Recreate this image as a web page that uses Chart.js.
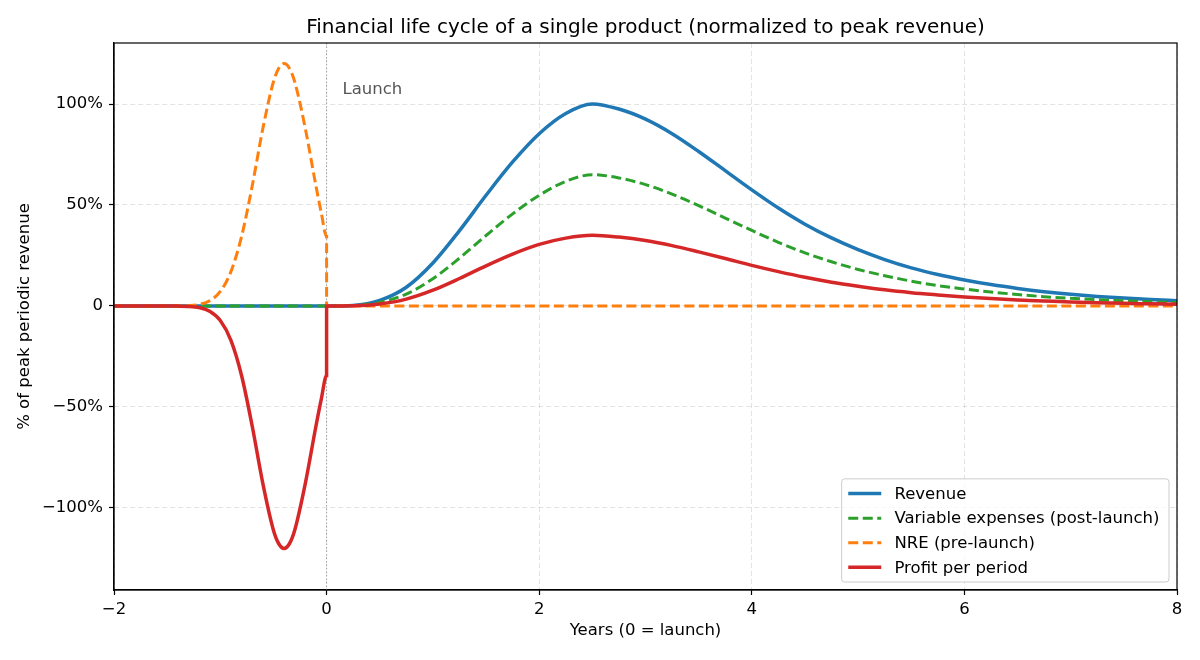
<!DOCTYPE html>
<html>
<head>
<meta charset="utf-8">
<title>Financial life cycle</title>
<script src="https://cdn.jsdelivr.net/npm/chart.js@4.4.1/dist/chart.umd.min.js"></script>
<style>
  body { margin: 0; background: #fff; }
  #wrap { width: 1200px; height: 660px; }
</style>
</head>
<body>
<div id="wrap"><canvas id="lifecycle" width="1200" height="660"></canvas></div>
<script>
// years relative to launch (two points at 0 for the launch step)
const years = [
  -2, -1.9, -1.8, -1.7, -1.6, -1.5, -1.4, -1.3, -1.2, -1.1, -1.0, -0.9, -0.8, -0.7, -0.6,
  -0.5, -0.45, -0.4, -0.35, -0.3, -0.2, -0.1, -0.05, 0,
  0, 0.25, 0.5, 0.75, 1, 1.25, 1.5, 1.75, 2, 2.25, 2.5, 2.75, 3, 3.25, 3.5, 3.75, 4,
  4.25, 4.5, 4.75, 5, 5.25, 5.5, 5.75, 6, 6.25, 6.5, 6.75, 7, 7.25, 7.5, 7.75, 8
];

// % of peak revenue
const revenue = [
  0, 0, 0, 0, 0, 0, 0, 0, 0, 0, 0, 0, 0, 0, 0, 0, 0, 0, 0, 0, 0, 0, 0, 0,
  0, 0.3, 2.8, 9.3, 21.3, 37.3, 54.8, 71.3, 85.3, 95.3, 100, 97.5, 92.5, 85.3, 76.5, 67, 57.5,
  48.5, 40.5, 33.7, 27.9, 23, 18.9, 15.6, 12.9, 10.6, 8.7, 7.1, 5.8, 4.75, 3.9, 3.2, 2.6
];
const variableExp = [
  0, 0, 0, 0, 0, 0, 0, 0, 0, 0, 0, 0, 0, 0, 0, 0, 0, 0, 0, 0, 0, 0, 0, 0,
  0, 0.2, 1.8, 5.9, 13.5, 23.7, 34.9, 45.6, 54.8, 61.7, 65, 63.4, 60.1, 55.4, 49.7, 43.5, 37.4,
  31.5, 26.3, 21.9, 18.1, 15.0, 12.3, 10.1, 8.4, 6.9, 5.7, 4.6, 3.8, 3.15, 2.6, 2.1, 1.7
];
const nre = [
  0, 0, 0, 0, 0, 0, 0.05, 0.2, 0.8, 2.6, 7.2, 17, 34.4, 59.4, 87.8,
  111, 117.7, 120, 117.7, 111, 87.8, 59.4, 46.1, 34.4,
  0, 0, 0, 0, 0, 0, 0, 0, 0, 0, 0, 0, 0, 0, 0, 0, 0,
  0, 0, 0, 0, 0, 0, 0, 0, 0, 0, 0, 0, 0, 0, 0, 0
];
const profit = [
  0, 0, 0, 0, 0, 0, -0.05, -0.2, -0.8, -2.6, -7.2, -17, -34.4, -59.4, -87.8,
  -111, -117.7, -120, -117.7, -111, -87.8, -59.4, -46.1, -34.4,
  0, 0.1, 1.0, 3.4, 7.8, 13.6, 19.9, 25.7, 30.5, 33.6, 35, 34.1, 32.4, 29.9, 26.8, 23.5, 20.1,
  17.0, 14.2, 11.8, 9.8, 8.0, 6.6, 5.5, 4.5, 3.7, 3.0, 2.5, 2.0, 1.6, 1.3, 1.1, 0.9
];

const seriesNames = ['Revenue', 'Variable expenses (post-launch)', 'NRE (pre-launch)', 'Profit per period'];
const xTicks = [-2, 0, 2, 4, 6, 8];
const xTickLabels = ['\u22122', '0', '2', '4', '6', '8'];
const yTicks = [-100, -50, 0, 50, 100];
const yTickLabels = ['\u2212100%', '\u221250%', '0', '50%', '100%'];
const launchYear = 0;

const blue = '#1f77b4', orange = '#ff7f0e', green = '#2ca02c', red = '#d62728';
const FONT = '"DejaVu Sans", "Liberation Sans", sans-serif';
const gridColor = 'rgba(176,176,176,0.35)';
const dashed = [10, 4.5];

const pts = vals => years.map((x, i) => ({x: x, y: vals[i]}));

const legendStyle = [
  {color: blue, dash: [], width: 3.5},
  {color: green, dash: dashed, width: 3},
  {color: orange, dash: dashed, width: 3},
  {color: red, dash: [], width: 3.5}
];

const overlay = {
  id: 'overlay',
  beforeDatasetsDraw(chart) {
    const {ctx, chartArea: a, scales: {x}} = chart;
    const px = x.getPixelForValue(launchYear);
    ctx.save();
    ctx.strokeStyle = '#a0a0a0';
    ctx.lineWidth = 1;
    ctx.setLineDash([1.5, 2]);
    ctx.beginPath();
    ctx.moveTo(px, a.top);
    ctx.lineTo(px, a.bottom);
    ctx.stroke();
    ctx.restore();
  },
  afterDraw(chart) {
    const {ctx, chartArea: a, scales: {x, y}} = chart;
    ctx.save();
    // Launch note
    ctx.font = '16.5px ' + FONT;
    ctx.fillStyle = '#555';
    ctx.textAlign = 'left';
    ctx.textBaseline = 'alphabetic';
    ctx.fillText('Launch', x.getPixelForValue(0.15), y.getPixelForValue(105));

    // frame on all four sides
    ctx.strokeStyle = '#000';
    ctx.lineWidth = 1.2;
    ctx.strokeRect(a.left, a.top, a.right - a.left, a.bottom - a.top);

    // legend, lower right inside the axes
    const fs = 16.5;
    const pad = 0.4 * fs, handleLen = 2 * fs, textPad = 0.8 * fs, gap = 0.5 * fs, rowH = 16.3;
    let maxW = 0;
    seriesNames.forEach(s => { maxW = Math.max(maxW, ctx.measureText(s).width); });
    const w = pad + handleLen + textPad + maxW + pad + 3;
    const h = 2 * pad + seriesNames.length * rowH + (seriesNames.length - 1) * gap;
    const left = a.right - 8 - w, top = a.bottom - 8 - h;
    ctx.beginPath();
    ctx.roundRect(left, top, w, h, 3);
    ctx.fillStyle = 'rgba(255,255,255,0.8)';
    ctx.fill();
    ctx.strokeStyle = '#cccccc';
    ctx.lineWidth = 1;
    ctx.stroke();
    seriesNames.forEach((s, i) => {
      const cy = top + pad + rowH / 2 + i * (rowH + gap);
      const st = legendStyle[i];
      ctx.beginPath();
      ctx.setLineDash(st.dash);
      ctx.strokeStyle = st.color;
      ctx.lineWidth = st.width;
      ctx.moveTo(left + pad, cy);
      ctx.lineTo(left + pad + handleLen, cy);
      ctx.stroke();
      ctx.setLineDash([]);
      ctx.fillStyle = '#000';
      ctx.textBaseline = 'middle';
      ctx.fillText(s, left + pad + handleLen + textPad, cy + 1);
    });
    ctx.restore();
  }
};

Chart.defaults.font.family = FONT;
Chart.defaults.color = '#000';

new Chart(document.getElementById('lifecycle'), {
  type: 'line',
  data: {
    datasets: [
      {label: seriesNames[0], data: pts(revenue), borderColor: blue, borderWidth: 3.5, order: 4},
      {label: seriesNames[1], data: pts(variableExp), borderColor: green, borderWidth: 3, borderDash: dashed, order: 3},
      {label: seriesNames[2], data: pts(nre), borderColor: orange, borderWidth: 3, borderDash: dashed, order: 2},
      {label: seriesNames[3], data: pts(profit), borderColor: red, borderWidth: 3.5, order: 1}
    ]
  },
  options: {
    responsive: false,
    animation: false,
    devicePixelRatio: 1,
    elements: {
      point: {radius: 0},
      line: {cubicInterpolationMode: 'monotone', fill: false}
    },
    layout: {padding: {left: 0, right: 23, top: 0, bottom: 0}},
    plugins: {
      legend: {display: false},
      tooltip: {enabled: false},
      title: {
        display: true,
        fullSize: false,
        text: 'Financial life cycle of a single product (normalized to peak revenue)',
        font: {size: 20, weight: 'normal'},
        color: '#000',
        padding: {top: 16, bottom: 3}
      }
    },
    scales: {
      x: {
        type: 'linear',
        min: -2,
        max: 8,
        afterBuildTicks: s => { s.ticks = xTicks.map(v => ({value: v})); },
        afterFit: s => { s.height = 70; },
        ticks: {callback: (v, i) => xTickLabels[i], font: {size: 16.5}, padding: 5, maxRotation: 0, autoSkip: false},
        grid: {color: gridColor, lineWidth: 1, tickColor: '#000', tickWidth: 1.2, tickLength: 5},
        border: {color: '#000', width: 1.2, dash: [5, 3]},
        title: {display: true, text: 'Years (0 = launch)', font: {size: 16.5}, padding: {top: 0, bottom: 19}}
      },
      y: {
        type: 'linear',
        min: -140.6,
        max: 130.2,
        afterBuildTicks: s => { s.ticks = yTicks.map(v => ({value: v})); },
        afterFit: s => { s.width = 114; },
        ticks: {callback: (v, i) => yTickLabels[i], font: {size: 16.5}, padding: 6, autoSkip: false},
        grid: {color: gridColor, lineWidth: 1, tickColor: '#000', tickWidth: 1.2, tickLength: 5},
        border: {color: '#000', width: 1.2, dash: [5, 3]},
        title: {display: true, text: '% of peak periodic revenue', font: {size: 16.5}, padding: {top: 15, bottom: 0}}
      }
    }
  },
  plugins: [overlay]
});
</script>
</body>
</html>
